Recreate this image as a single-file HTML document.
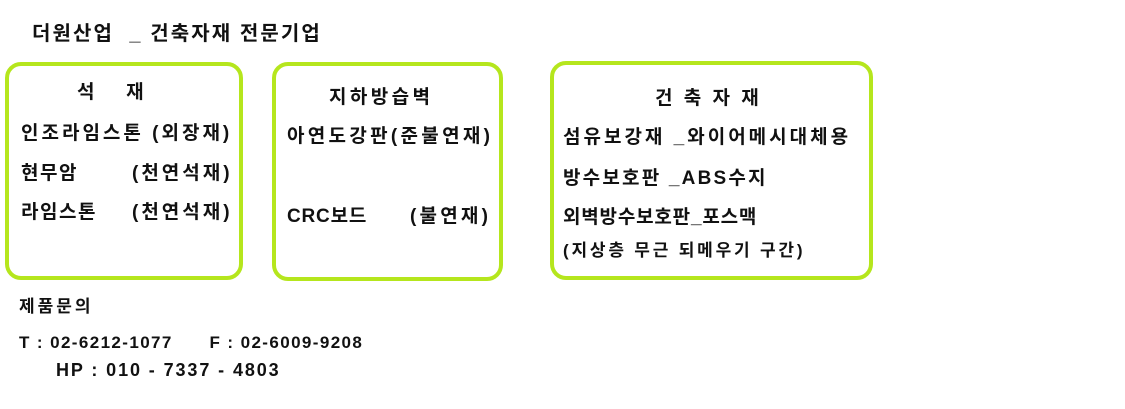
<!DOCTYPE html>
<html><head><meta charset="utf-8"><style>
body{margin:0;width:1125px;height:409px;background:#fff;position:relative;overflow:hidden;font-family:"Liberation Sans","Noto Sans CJK KR","NanumGothic",sans-serif;font-weight:bold;color:#111}
.b{position:absolute;border:4px solid #b5e61d;border-radius:16px;box-sizing:border-box}
.t{position:absolute;white-space:pre;font-size:19px;line-height:20px}
</style></head><body>
<div class="t" style="left:32px;top:24px;font-size:20px;letter-spacing:2.1px">더원산업  _ 건축자재 전문기업</div>
<div class="b" style="left:5px;top:62px;width:238px;height:218px"></div>
<div class="b" style="left:272px;top:62px;width:231px;height:219px"></div>
<div class="b" style="left:550px;top:61px;width:323px;height:219px"></div>

<div class="t" style="left:77px;top:83px">석      재</div>
<div class="t" style="left:21px;top:124px;letter-spacing:3px">인조라임스톤 (외장재)</div>
<div class="t" style="left:21px;top:164px;letter-spacing:1.5px">현무암</div>
<div class="t" style="left:132px;top:164px;letter-spacing:3px">(천연석재)</div>
<div class="t" style="left:21px;top:203px;letter-spacing:1.5px">라임스톤</div>
<div class="t" style="left:132px;top:203px;letter-spacing:3px">(천연석재)</div>

<div class="t" style="left:329px;top:88px;letter-spacing:3.4px">지하방습벽</div>
<div class="t" style="left:287px;top:127px;letter-spacing:3.3px">아연도강판(준불연재)</div>
<div class="t" style="left:287px;top:207px;letter-spacing:0.8px">CRC보드</div>
<div class="t" style="left:410px;top:207px;letter-spacing:3.2px">(불연재)</div>

<div class="t" style="left:655px;top:89px;letter-spacing:3px">건 축 자 재</div>
<div class="t" style="left:563px;top:128px;letter-spacing:3px">섬유보강재 _와이어메시대체용</div>
<div class="t" style="left:563px;top:169px;letter-spacing:2.2px">방수보호판 _ABS수지</div>
<div class="t" style="left:563px;top:208px;letter-spacing:0.8px">외벽방수보호판_포스맥</div>
<div class="t" style="left:563px;top:241px;font-size:17px;letter-spacing:2.8px">(지상층 무근 되메우기 구간)</div>

<div class="t" style="left:19px;top:297px;font-size:17px;letter-spacing:3px">제품문의</div>
<div class="t" style="left:19px;top:333px;font-size:17px;letter-spacing:1.4px">T : 02-6212-1077      F : 02-6009-9208</div>
<div class="t" style="left:56px;top:360px;font-size:18px;letter-spacing:1.9px">HP : 010 - 7337 - 4803</div>
</body></html>
